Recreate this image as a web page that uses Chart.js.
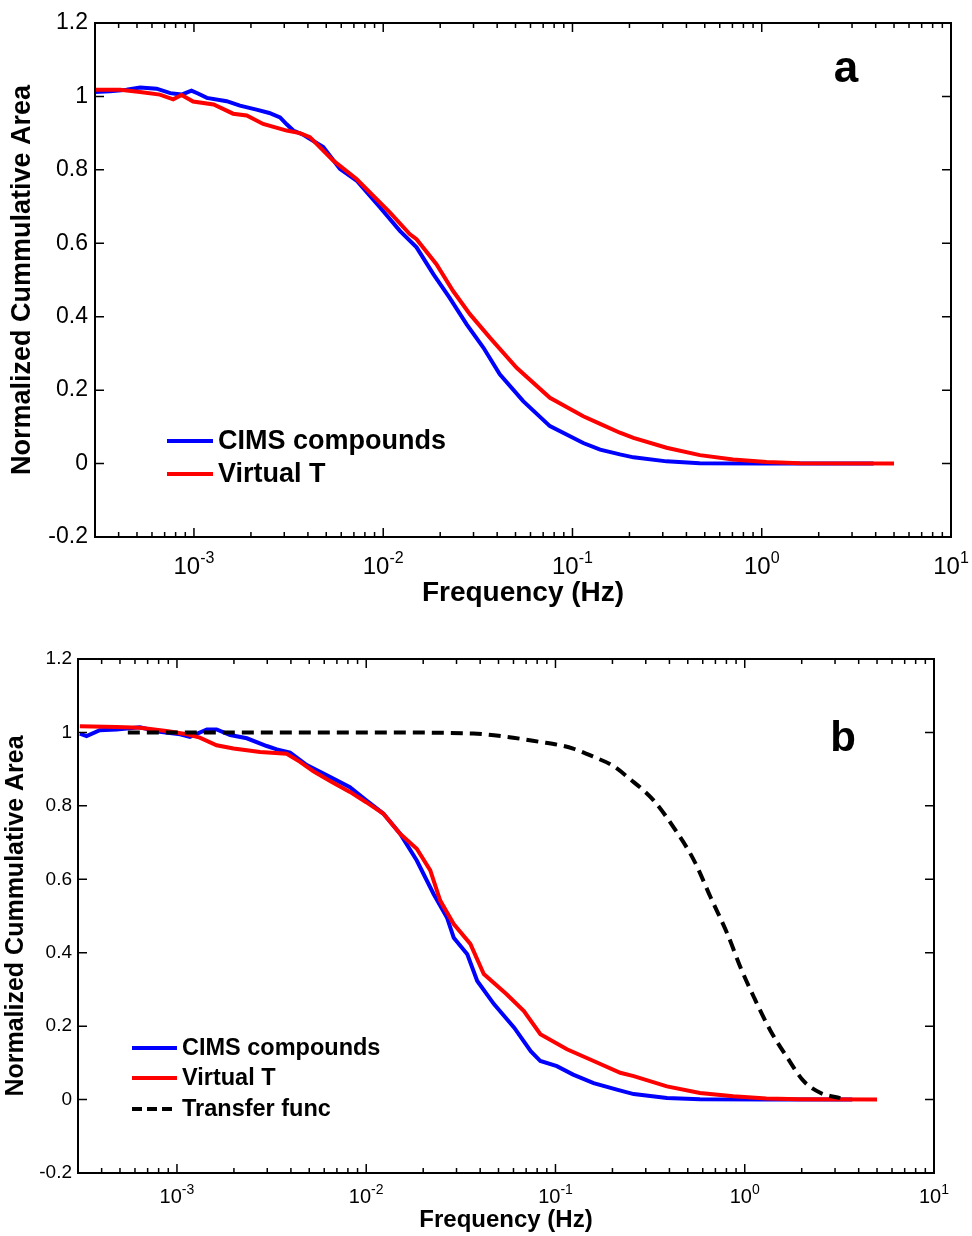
<!DOCTYPE html>
<html>
<head>
<meta charset="utf-8">
<title>Normalized cumulative area</title>
<script src="https://cdn.jsdelivr.net/npm/chart.js@4.4.0/dist/chart.umd.min.js"></script>
<style>
  html, body { margin: 0; padding: 0; background: #fff; }
  #wrap { position: relative; width: 972px; height: 1236px; }
  canvas { position: absolute; left: 0; }
  #chartA { top: 0; }
  #chartB { top: 618px; }
</style>
</head>
<body>
<div id="wrap">
  <canvas id="chartA" width="972" height="618"></canvas>
  <canvas id="chartB" width="972" height="618"></canvas>
</div>
<script>
// ---- Data ----
const seriesNames = ['CIMS compounds', 'Virtual T', 'Transfer func'];
const xTickExponents = [-3, -2, -1, 0, 1];

// panel a
const aCimsFreq = [3.0e-4, 3.6e-4, 4.4e-4, 5.2e-4, 6.35e-4, 7.5e-4, 8.6e-4, 9.7e-4, 1.05e-3, 1.17e-3,
  1.49e-3, 1.75e-3, 2.14e-3, 2.5e-3, 2.85e-3, 3.09e-3, 3.35e-3, 3.8e-3, 4.82e-3, 5.9e-3,
  7.23e-3, 9.6e-3, 0.01225, 0.015, 0.0184, 0.0224, 0.0276, 0.0338, 0.0413, 0.0549,
  0.076, 0.114, 0.14, 0.178, 0.21, 0.314, 0.47, 1.0, 2.0, 3.9];
const aCimsVal = [1.012, 1.014, 1.018, 1.024, 1.021, 1.009, 1.005, 1.016, 1.008, 0.996,
  0.987, 0.975, 0.964, 0.955, 0.943, 0.924, 0.907, 0.895, 0.862, 0.803,
  0.771, 0.698, 0.634, 0.589, 0.516, 0.452, 0.379, 0.316, 0.243, 0.170,
  0.102, 0.056, 0.038, 0.025, 0.017, 0.006, 0.001, 0.0, 0.0, 0.0];

const aVirtFreq = [3.0e-4, 4.07e-4, 5.19e-4, 6.6e-4, 7.77e-4, 8.6e-4, 9.9e-4, 1.27e-3, 1.61e-3, 1.9e-3,
  2.32e-3, 3.09e-3, 3.63e-3, 4.1e-3, 5.45e-3, 7.23e-3, 0.01084, 0.0138, 0.015, 0.0191,
  0.0234, 0.0287, 0.0366, 0.0507, 0.076, 0.114, 0.14, 0.178, 0.21, 0.314,
  0.471, 0.706, 1.06, 1.59, 5.0];
const aVirtVal = [1.018, 1.018, 1.012, 1.005, 0.992, 1.004, 0.986, 0.978, 0.953, 0.948,
  0.925, 0.907, 0.900, 0.889, 0.825, 0.775, 0.684, 0.625, 0.611, 0.543,
  0.470, 0.407, 0.343, 0.261, 0.179, 0.129, 0.108, 0.084, 0.070, 0.043,
  0.023, 0.011, 0.004, 0.001, 0.0];

// panel b
const bCimsFreq = [3.07e-4, 3.33e-4, 3.91e-4, 4.8e-4, 6.37e-4, 8.1e-4, 1.04e-3, 1.17e-3, 1.44e-3, 1.62e-3,
  1.91e-3, 2.34e-3, 2.98e-3, 3.37e-3, 3.96e-3, 4.85e-3, 6.2e-3, 8.2e-3, 0.01, 0.0123,
  0.0151, 0.0185, 0.0227, 0.0267, 0.029, 0.0342, 0.0386, 0.0473, 0.0605, 0.074,
  0.0832, 0.1017, 0.124, 0.159, 0.211, 0.259, 0.388, 0.58, 1.3, 3.7];
const bCimsVal = [0.997, 0.990, 1.006, 1.008, 1.014, 1.002, 0.995, 0.988, 1.008, 1.008,
  0.993, 0.984, 0.963, 0.954, 0.945, 0.911, 0.883, 0.851, 0.815, 0.779,
  0.724, 0.651, 0.560, 0.496, 0.441, 0.396, 0.323, 0.260, 0.196, 0.132,
  0.105, 0.091, 0.068, 0.045, 0.027, 0.015, 0.004, 0.001, 0.0, 0.0];

const bVirtFreq = [3.07e-4, 4.8e-4, 6.37e-4, 8.8e-4, 1.13e-3, 1.32e-3, 1.62e-3, 1.99e-3, 2.75e-3, 3.8e-3,
  4.47e-3, 5.26e-3, 6.44e-3, 8.2e-3, 0.01, 0.0123, 0.0151, 0.0185, 0.0218, 0.0246,
  0.029, 0.0355, 0.0418, 0.0552, 0.0681, 0.0832, 0.115, 0.159, 0.22, 0.259,
  0.388, 0.58, 0.87, 1.3, 1.95, 5.0];
const bVirtVal = [1.017, 1.015, 1.013, 1.004, 0.995, 0.986, 0.965, 0.956, 0.947, 0.942,
  0.920, 0.894, 0.868, 0.838, 0.810, 0.779, 0.724, 0.683, 0.624, 0.542,
  0.478, 0.424, 0.342, 0.287, 0.241, 0.178, 0.137, 0.105, 0.073, 0.064,
  0.036, 0.018, 0.009, 0.003, 0.001, 0.0];

const bTransFreq = [5.5e-4, 1e-3, 3e-3, 0.01, 0.0367, 0.0552, 0.0832, 0.106, 0.124, 0.16,
  0.2, 0.245, 0.33, 0.42, 0.54, 0.66, 0.81, 0.95, 1.12, 1.37,
  1.68, 2.05, 2.52, 3.2];
const bTransVal = [1.0, 1.0, 1.0, 1.0, 0.997, 0.988, 0.974, 0.965, 0.956, 0.933,
  0.910, 0.875, 0.815, 0.742, 0.651, 0.551, 0.451, 0.360, 0.278, 0.187,
  0.114, 0.050, 0.018, 0.004];

// ---- Helpers ----
const FONT = '"Liberation Sans", Arial, Helvetica, sans-serif';

function toPoints(xs, ys) {
  return xs.map((x, i) => ({ x: x, y: ys[i] }));
}

function lineSet(label, xs, ys, color, order, dash) {
  const ds = {
    label: label,
    data: toPoints(xs, ys),
    borderColor: color,
    backgroundColor: color,
    borderWidth: 4,
    borderDash: dash || [],
    pointRadius: 0,
    tension: 0,
    fill: false,
    order: order
  };
  if (dash) ds.cubicInterpolationMode = 'monotone';
  return ds;
}

// MATLAB-like box, inward ticks, 10^n labels, legend and panel letter
function matlabAxes(st) {
  return {
    id: 'matlabAxes',
    afterDraw(chart) {
      const ctx = chart.ctx;
      const { left, right, top, bottom } = chart.chartArea;
      const xs = chart.scales.x, ys = chart.scales.y;
      ctx.save();
      ctx.setLineDash([]);
      ctx.strokeStyle = '#000';
      ctx.lineWidth = 2;
      ctx.strokeRect(left, top, right - left, bottom - top);

      ctx.lineWidth = 1.5;
      ctx.beginPath();
      ys.ticks.forEach(t => {
        const y = ys.getPixelForValue(t.value);
        ctx.moveTo(left, y); ctx.lineTo(left + st.major, y);
        ctx.moveTo(right, y); ctx.lineTo(right - st.major, y);
      });
      for (let d = -4; d <= 1; d++) {
        for (let k = 1; k <= 9; k++) {
          const v = k * Math.pow(10, d);
          if (v < xs.min * 1.001 || v > xs.max * 0.999) continue;
          const x = xs.getPixelForValue(v);
          const len = k === 1 ? st.major : st.minor;
          ctx.moveTo(x, bottom); ctx.lineTo(x, bottom - len);
          ctx.moveTo(x, top); ctx.lineTo(x, top + len);
        }
      }
      ctx.stroke();

      // x tick labels with superscript exponent
      ctx.fillStyle = '#000';
      ctx.textBaseline = 'alphabetic';
      ctx.textAlign = 'left';
      xTickExponents.forEach(e => {
        const x = xs.getPixelForValue(Math.pow(10, e));
        ctx.font = st.baseSize + 'px ' + FONT;
        const wb = ctx.measureText('10').width;
        ctx.font = st.expSize + 'px ' + FONT;
        const we = ctx.measureText(String(e)).width;
        const x0 = x - (wb + we) / 2;
        ctx.font = st.baseSize + 'px ' + FONT;
        ctx.fillText('10', x0, st.labelBase);
        ctx.font = st.expSize + 'px ' + FONT;
        ctx.fillText(String(e), x0 + wb, st.labelBase - st.baseSize * 0.45);
      });

      // legend
      ctx.font = 'bold ' + st.legendSize + 'px ' + FONT;
      ctx.textBaseline = 'middle';
      chart.data.datasets.forEach((ds, i) => {
        const y = st.legendRows[i];
        ctx.strokeStyle = ds.borderColor;
        ctx.lineWidth = ds.borderWidth;
        ctx.setLineDash(ds.borderDash && ds.borderDash.length ? [10, 5] : []);
        ctx.beginPath();
        ctx.moveTo(st.legendX0, y);
        ctx.lineTo(st.legendX1, y);
        ctx.stroke();
        ctx.fillText(ds.label, st.legendText, y + 1);
      });
      ctx.setLineDash([]);

      // panel letter
      ctx.font = 'bold ' + st.letterSize + 'px ' + FONT;
      ctx.textAlign = 'center';
      ctx.fillText(st.letter, st.letterX, st.letterY);
      ctx.restore();
    }
  };
}

function makePanel(id, datasets, st) {
  return new Chart(document.getElementById(id), {
    type: 'line',
    data: { datasets: datasets },
    options: {
      responsive: false,
      animation: false,
      events: [],
      layout: { padding: { left: 0, top: st.top, right: 972 - st.right, bottom: 0 } },
      plugins: { legend: { display: false }, tooltip: { enabled: false } },
      scales: {
        x: {
          type: 'logarithmic',
          min: 3e-4,
          max: 10,
          bounds: 'data',
          grid: { display: false, drawTicks: false },
          border: { display: false },
          ticks: { display: false },
          title: {
            display: true,
            text: 'Frequency (Hz)',
            color: '#000',
            font: { family: FONT, size: st.titleSize, weight: 'bold', lineHeight: 1 },
            padding: { top: 0, bottom: st.xTitlePad }
          },
          afterFit: s => { s.height = 618 - st.bottom; }
        },
        y: {
          min: -0.2,
          max: 1.2,
          grid: { display: false, drawTicks: false },
          border: { display: false },
          ticks: {
            stepSize: 0.2,
            padding: st.yTickPad,
            color: '#000',
            font: { family: FONT, size: st.yTickSize },
            callback: v => String(+Number(v).toFixed(1))
          },
          title: {
            display: true,
            text: 'Normalized Cummulative Area',
            color: '#000',
            font: { family: FONT, size: st.yTitleSize, weight: 'bold', lineHeight: 1 },
            padding: { top: st.yTitlePad, bottom: 0 }
          },
          afterFit: s => { s.width = st.left; }
        }
      }
    },
    plugins: [matlabAxes(st)]
  });
}

// ---- Panels ----
document.addEventListener('DOMContentLoaded', () => {
  makePanel('chartA', [
    lineSet(seriesNames[0], aCimsFreq, aCimsVal, '#0000ff', 2),
    lineSet(seriesNames[1], aVirtFreq, aVirtVal, '#ff0000', 1)
  ], {
    left: 95, right: 951, top: 23, bottom: 537,
    major: 9, minor: 5,
    baseSize: 24, expSize: 16, labelBase: 574,
    titleSize: 28, xTitlePad: 11, yTitleSize: 27, yTitlePad: 9,
    yTickSize: 23, yTickPad: 7,
    legendX0: 167, legendX1: 213, legendText: 218, legendRows: [441, 474], legendSize: 27,
    letter: 'a', letterX: 846, letterY: 70, letterSize: 44
  });

  makePanel('chartB', [
    lineSet(seriesNames[0], bCimsFreq, bCimsVal, '#0000ff', 3),
    lineSet(seriesNames[1], bVirtFreq, bVirtVal, '#ff0000', 2),
    lineSet(seriesNames[2], bTransFreq, bTransVal, '#000000', 1, [12, 7])
  ], {
    left: 78, right: 934, top: 41, bottom: 555,
    major: 9, minor: 5,
    baseSize: 20, expSize: 14, labelBase: 585,
    titleSize: 24, xTitlePad: 4, yTitleSize: 25, yTitlePad: 4,
    yTickSize: 19, yTickPad: 6,
    legendX0: 132, legendX1: 177, legendText: 182, legendRows: [430, 460, 491], legendSize: 23.5,
    letter: 'b', letterX: 843, letterY: 121, letterSize: 42
  });
});
</script>
</body>
</html>
